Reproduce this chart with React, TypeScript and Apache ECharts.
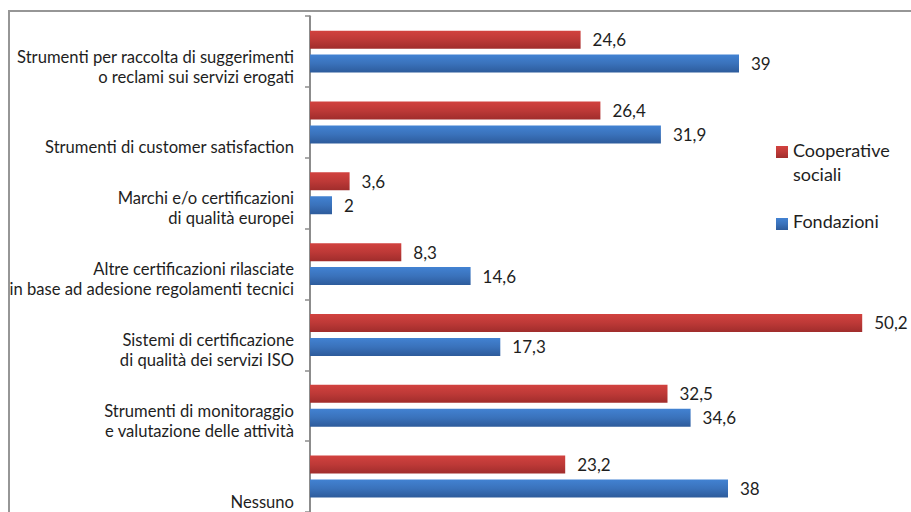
import React, { useEffect, useRef } from "react";
import * as echarts from "echarts";

const categories = [
  "Strumenti per raccolta di suggerimenti\no reclami sui servizi erogati",
  "Strumenti di customer satisfaction",
  "Marchi e/o certificazioni\ndi qualità europei",
  "Altre certificazioni rilasciate\nin base ad adesione regolamenti tecnici",
  "Sistemi di certificazione\ndi qualità dei servizi ISO",
  "Strumenti di monitoraggio\ne valutazione delle attività",
  "Nessuno",
];

const seriesNames = ["Cooperative\nsociali", "Fondazioni"];
const cooperativeValues = [24.6, 26.4, 3.6, 8.3, 50.2, 32.5, 23.2];
const fondazioniValues = [39, 31.9, 2, 14.6, 17.3, 34.6, 38];

const FONT = "Lato";
const TEXT = "#1e1e1e";

const redFill = () =>
  new echarts.graphic.LinearGradient(0, 0, 0, 1, [
    { offset: 0, color: "#d2423f" },
    { offset: 0.5, color: "#bd3937" },
    { offset: 1, color: "#a02d2c" },
  ]);
const blueFill = () =>
  new echarts.graphic.LinearGradient(0, 0, 0, 1, [
    { offset: 0, color: "#4282d2" },
    { offset: 0.5, color: "#3a72bb" },
    { offset: 1, color: "#2d5b9b" },
  ]);

const fmt = (v: number) => String(v).replace(".", ",");

export default function App() {
  const ref = useRef<HTMLDivElement>(null);

  useEffect(() => {
    if (!ref.current) return;
    const chart = echarts.init(ref.current, null, { renderer: "svg" });

    const valueLabel = {
      show: true,
      position: "right" as const,
      distance: 12,
      color: TEXT,
      fontFamily: FONT,
      fontSize: 17,
      formatter: (p: any) => fmt(p.value),
    };

    chart.setOption({
      animation: false,
      backgroundColor: "#ffffff",
      grid: { left: 310, top: 16.2, width: 594, height: 498.4, containLabel: false },
      xAxis: {
        type: "value",
        min: 0,
        max: 54,
        show: false,
      },
      yAxis: {
        type: "category",
        inverse: true,
        data: categories,
        offset: 1,
        axisLine: { show: true, lineStyle: { color: "#8c8c8c", width: 2 } },
        axisTick: { show: true, length: 5, lineStyle: { color: "#8c8c8c", width: 1.5 } },
        axisLabel: {
          interval: 0,
          margin: 15,
          color: TEXT,
          fontFamily: FONT,
          fontSize: 16.6,
          lineHeight: 20,
          align: "right",
          verticalAlign: "bottom",
          padding: [0, 0, -35, 0],
        },
        splitLine: { show: false },
      },
      series: [
        {
          name: seriesNames[0],
          type: "bar",
          data: cooperativeValues,
          barWidth: 18,
          barGap: "33%",
          itemStyle: { color: redFill() },
          label: valueLabel,
        },
        {
          name: seriesNames[1],
          type: "bar",
          data: fondazioniValues,
          barWidth: 18,
          barGap: "33%",
          itemStyle: { color: blueFill() },
          label: valueLabel,
        },
      ],
      graphic: [
        {
          type: "rect",
          shape: { x: 9, y: 11, width: 1000, height: 600 },
          style: { fill: "none", stroke: "#969696", lineWidth: 2 },
          silent: true,
        },
        {
          type: "rect",
          shape: { x: 776, y: 146, width: 12, height: 12 },
          style: { fill: redFill() },
        },
        {
          type: "text",
          x: 793,
          y: 138,
          style: {
            text: seriesNames[0],
            fill: TEXT,
            fontFamily: FONT,
            fontSize: 18,
            lineHeight: 24,
            verticalAlign: "top",
          },
        },
        {
          type: "rect",
          shape: { x: 776, y: 218, width: 12, height: 12 },
          style: { fill: blueFill() },
        },
        {
          type: "text",
          x: 793,
          y: 209,
          style: {
            text: seriesNames[1],
            fill: TEXT,
            fontFamily: FONT,
            fontSize: 18,
            lineHeight: 24,
            verticalAlign: "top",
          },
        },
      ],
    });

    return () => chart.dispose();
  }, []);

  return (
    <div
      ref={ref}
      style={{ position: "absolute", left: 0, top: 0, width: 911, height: 512 }}
    />
  );
}
